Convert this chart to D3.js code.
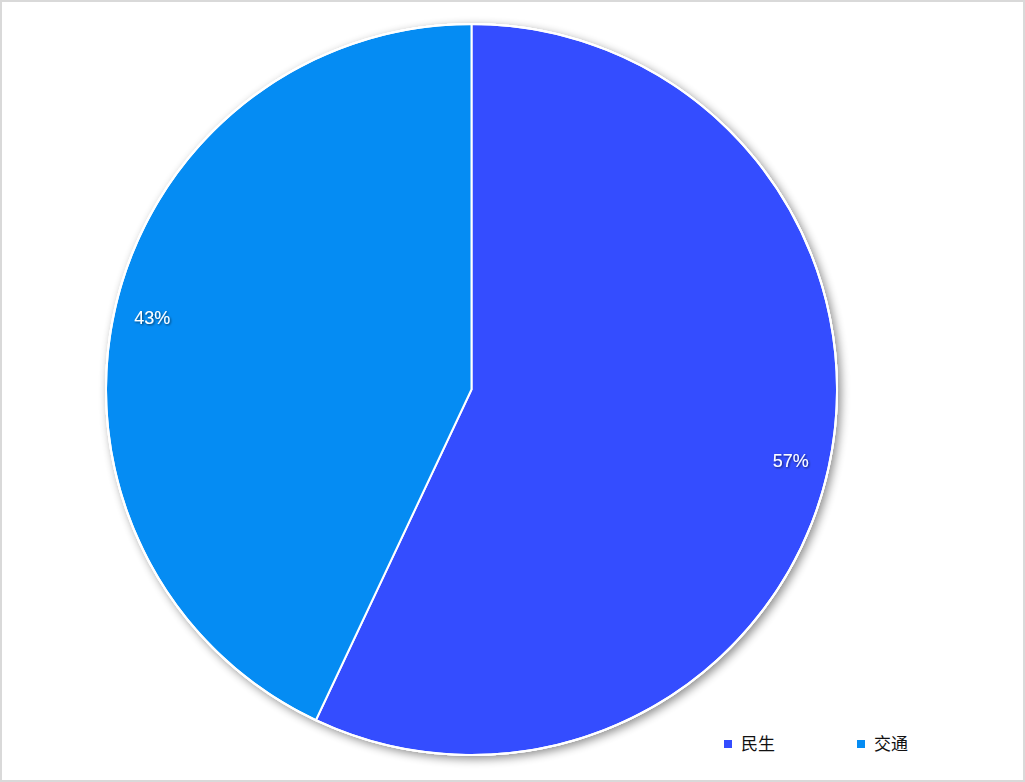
<!DOCTYPE html>
<html><head><meta charset="utf-8">
<script src="https://cdn.jsdelivr.net/npm/d3@7"></script>
<style>
html,body{margin:0;padding:0;background:#fff;}
svg{display:block;}
</style></head>
<body>
<svg id="chart" width="1025" height="782"></svg>
<script>
const categories = ["民生", "交通"];
const values = [57, 43];
const colors = ["#344dff", "#058cf3"];

const W = 1025, H = 782;
const svg = d3.select("#chart");
svg.append("rect").attr("x",1).attr("y",1).attr("width",W-2).attr("height",H-2)
  .attr("fill","#fff").attr("stroke","#d9d9d9").attr("stroke-width",2);

const defs = svg.append("defs");
const f = defs.append("filter").attr("id","sh").attr("x","-10%").attr("y","-10%").attr("width","120%").attr("height","120%");
f.append("feGaussianBlur").attr("in","SourceAlpha").attr("stdDeviation",5);
f.append("feOffset").attr("dx",3).attr("dy",3).attr("result","b");
f.append("feComponentTransfer").append("feFuncA").attr("type","linear").attr("slope",0.45);
const m = f.append("feMerge");
m.append("feMergeNode");
m.append("feMergeNode").attr("in","SourceGraphic");

const lf = defs.append("filter").attr("id","tsh").attr("x","-20%").attr("y","-20%").attr("width","140%").attr("height","140%");
lf.append("feDropShadow").attr("dx",1).attr("dy",1).attr("stdDeviation",0.8).attr("flood-color","#000").attr("flood-opacity",0.6);

const cx = 471.5, cy = 389.5, R = 365.5;
const total = d3.sum(values);
const pie = d3.pie().sort(null).value(d => d)(values);
const arc = d3.arc().innerRadius(0).outerRadius(R);
const labelArc = d3.arc().innerRadius(R*0.895).outerRadius(R*0.895);

const g = svg.append("g").attr("transform",`translate(${cx},${cy})`);
g.append("circle").attr("r",R+1).attr("fill","#fff").attr("filter","url(#sh)");
g.selectAll("path.slice").data(pie).enter().append("path").attr("class","slice")
  .attr("d",arc).attr("fill",(d,i)=>colors[i]).attr("stroke","#fff").attr("stroke-width",2);
g.append("circle").attr("r",R).attr("fill","none").attr("stroke","#fff").attr("stroke-width",2);

g.selectAll("text.lbl").data(pie).enter().append("text").attr("class","lbl")
  .attr("transform",d=>`translate(${labelArc.centroid(d)})`)
  .attr("text-anchor","middle").attr("dy","0.35em")
  .attr("font-family","Arial, 'Liberation Sans', sans-serif").attr("font-size",18)
  .attr("fill","#fff").attr("filter","url(#tsh)")
  .text(d => Math.round(d.data/total*100) + "%");

const legX = [724, 857], legY = 744;
const lg = svg.append("g");
categories.forEach((c,i)=>{
  lg.append("rect").attr("x",legX[i]).attr("y",legY-4).attr("width",8).attr("height",8).attr("fill",colors[i]);
  lg.append("text").attr("x",legX[i]+17).attr("y",legY).attr("dy","0.35em")
    .attr("font-family","'Noto Sans CJK SC', sans-serif").attr("font-size",17).attr("fill","#111")
    .text(c);
});
</script>
</body></html>
